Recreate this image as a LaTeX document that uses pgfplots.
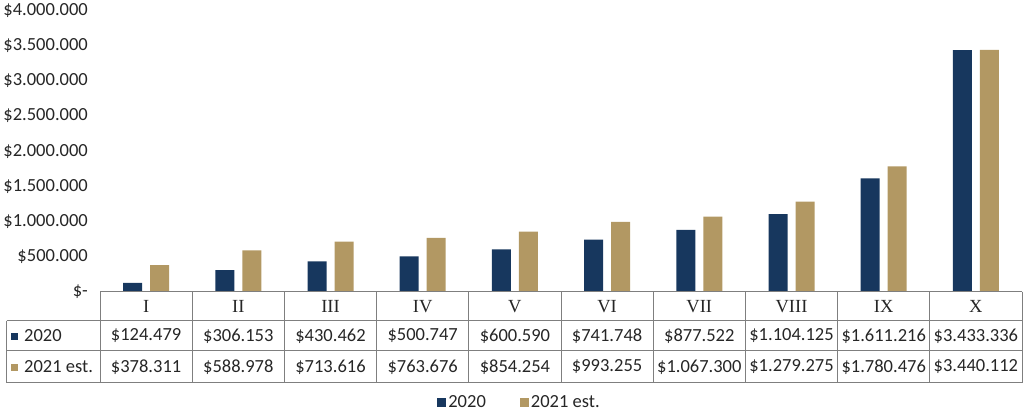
\documentclass[border=0pt]{standalone}
\usepackage{pgfplots}
\pgfplotsset{compat=1.18}
\usepackage{fontspec}
\setmainfont{Carlito}
\newfontfamily\romanfont{Liberation Serif}
\definecolor{cA}{HTML}{17375E}
\definecolor{cB}{HTML}{B29863}
\definecolor{gridc}{HTML}{7F7F7F}
\definecolor{txt}{HTML}{262626}
\newcommand{\fs}{\fontsize{18.5}{21}\selectfont}
\begin{document}
\begin{tikzpicture}[x=1pt,y=1pt]
\begin{axis}[
  name=a, at={(0,0)}, anchor=south west,
  width=922pt, height=281.3pt, scale only axis,
  xmin=-0.5, xmax=9.5, ymin=0, ymax=4000000,
  axis line style={draw=none},
  xtick=\empty,
  ytick={0,500000,1000000,1500000,2000000,2500000,3000000,3500000,4000000},
  yticklabels={\$-,\$500.000,\$1.000.000,\$1.500.000,\$2.000.000,\$2.500.000,\$3.000.000,\$3.500.000,\$4.000.000},
  scaled y ticks=false,
  major tick length=0pt,
  tick style={draw=none},
  yticklabel style={font=\fs, text=txt, inner sep=0pt, anchor=east, xshift=-12pt},
  legend columns=2,
  legend style={draw=none, fill=none, font=\fs, text=txt, at={(0.455,-0.394)}, anchor=center,
    /tikz/every even column/.append style={column sep=32pt}},
  legend image code/.code={\fill[#1] (0pt,-4.5pt) rectangle (9pt,4.5pt);},
  clip=false,
]
\addplot[ybar, fill=cA, draw=none, bar width=19pt, bar shift=-13.5pt] coordinates {
(0,124479) (1,306153) (2,430462) (3,500747) (4,600590) (5,741748) (6,877522) (7,1104125) (8,1611216) (9,3433336)};
\addplot[ybar, fill=cB, draw=none, bar width=19pt, bar shift=13.5pt] coordinates {
(0,378311) (1,588978) (2,713616) (3,763676) (4,854254) (5,993255) (6,1067300) (7,1279275) (8,1780476) (9,3440112)};
\legend{2020, 2021 est.}
\end{axis}
% data table
\begin{scope}[gridc, line width=1pt]
\draw (0,0) -- (922,0);
\foreach \k in {0,...,10} { \draw (\k*92.2,0) -- (\k*92.2,-91); }
\draw (-93.3,-29.3) -- (922,-29.3);
\draw (-93.3,-59.3) -- (922,-59.3);
\draw (-93.3,-91) -- (922,-91);
\draw (-93.3,-29.3) -- (-93.3,-91);
\end{scope}
\foreach \r [count=\i from 0] in {I,II,III,IV,V,VI,VII,VIII,IX,X} {
  \node[font=\romanfont\fs, text=txt, inner sep=0pt] at (\i*92.2+46.1,-14.6) {\r};
}
\foreach \v [count=\i from 0] in {124.479,306.153,430.462,500.747,600.590,741.748,877.522,1.104.125,1.611.216,3.433.336} {
  \node[font=\fs, text=txt, inner sep=0pt] at (\i*92.2+46.1,-44.3) {\$\v};
}
\foreach \v [count=\i from 0] in {378.311,588.978,713.616,763.676,854.254,993.255,1.067.300,1.279.275,1.780.476,3.440.112} {
  \node[font=\fs, text=txt, inner sep=0pt] at (\i*92.2+46.1,-75.2) {\$\v};
}
\fill[cA] (-88.5,-48) rectangle (-81.5,-41);
\fill[cB] (-88.5,-79) rectangle (-81.5,-72);
\node[font=\fs, text=txt, inner sep=0pt, anchor=west] at (-76,-44.3) {2020};
\node[font=\fs, text=txt, inner sep=0pt, anchor=west] at (-76,-75.2) {2021 est.};
\path (-100,-122.3) rectangle (924,291.7);
\end{tikzpicture}
\end{document}
